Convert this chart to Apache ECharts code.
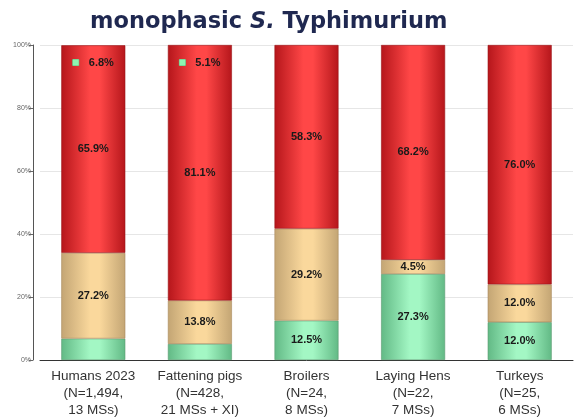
<!DOCTYPE html>
<html><head><meta charset="utf-8">
<script src="https://cdn.jsdelivr.net/npm/echarts@6/dist/echarts.min.js"></script>
<style>html,body{margin:0;padding:0;background:#fff}#c{width:577px;height:419px}</style>
</head><body><div id="c"></div>
<script>
var categories = ['Humans 2023\n(N=1,494,\n13 MSs)', 'Fattening pigs\n(N=428,\n21 MSs + XI)', 'Broilers\n(N=24,\n8 MSs)', 'Laying Hens\n(N=22,\n7 MSs)', 'Turkeys\n(N=25,\n6 MSs)'];
var greenVals = [6.8, 5.1, 12.5, 27.3, 12.0];
var tanVals = [27.2, 13.8, 29.2, 4.5, 12.0];
var redVals = [65.9, 81.1, 58.3, 68.2, 76.0];
var greenLabelOnTop = [true, true, false, false, false];
var yTicks = [0, 20, 40, 60, 80, 100];

function grad(edge, mid) {
  return new echarts.graphic.LinearGradient(0, 0, 1, 0, [
    {offset: 0, color: edge}, {offset: 0.45, color: mid}, {offset: 0.6, color: mid}, {offset: 1, color: edge}
  ]);
}
var lblBase = {show: true, position: 'inside', color: '#1a1a1a', fontWeight: 'bold', fontSize: 11, fontFamily: 'Liberation Sans, Arial, sans-serif',
  formatter: function (p) { return p.value.toFixed(1) + '%'; }};

var chart = echarts.init(document.getElementById('c'), null, {renderer: 'canvas'});
chart.setOption({
  animation: false,
  title: {text: 'monophasic {i|S.} Typhimurium', left: 85, top: 6,
    textStyle: {fontFamily: 'DejaVu Sans', fontWeight: 'bold', fontSize: 22.5, color: '#1f2850',
      rich: {i: {fontFamily: 'DejaVu Sans', fontStyle: 'italic', fontWeight: 'bold', fontSize: 22.5, color: '#1f2850'}}}},
  grid: {left: 40, right: 4, top: 45, bottom: 59},
  xAxis: {type: 'category', data: categories,
    axisLine: {lineStyle: {color: '#333', width: 1}}, axisTick: {show: false},
    axisLabel: {color: '#333', fontSize: 13.5, lineHeight: 17, margin: 8, fontFamily: 'Liberation Sans, Arial, sans-serif', interval: 0}},
  yAxis: {type: 'value', min: 0, max: 100, interval: 20, offset: 7,
    axisLine: {show: true, lineStyle: {color: '#555'}},
    axisTick: {show: true, length: 4, lineStyle: {color: '#666'}},
    splitLine: {lineStyle: {color: '#e6e6e6'}},
    axisLabel: {fontSize: 7, color: '#666', margin: 2, fontFamily: 'Liberation Sans, Arial, sans-serif',
      formatter: function (v) { return yTicks.indexOf(v) >= 0 ? v + '%' : ''; }}},
  series: [
    {name: 'green', type: 'bar', stack: 's', barWidth: 64,
      itemStyle: {color: grad('#62b985', '#a3f7c4'), borderColor: '#5a9a70', borderWidth: 0.6},
      label: Object.assign({}, lblBase, {formatter: function (p) { return greenLabelOnTop[p.dataIndex] ? '' : p.value.toFixed(1) + '%'; }}),
      data: greenVals},
    {name: 'tan', type: 'bar', stack: 's', barWidth: 64,
      itemStyle: {color: grad('#c3a574', '#fad89c'), borderColor: '#a8885a', borderWidth: 0.6},
      label: lblBase, data: tanVals},
    {name: 'red', type: 'bar', stack: 's', barWidth: 64,
      itemStyle: {color: grad('#b5161b', '#ff4747'), borderColor: '#9a1418', borderWidth: 0.6},
      label: lblBase, data: redVals},
    {name: 'greenTop', type: 'bar', barWidth: 64, barGap: '-100%', silent: true,
      itemStyle: {color: 'rgba(0,0,0,0)'},
      label: {show: true, position: 'insideTop', distance: 12,
        formatter: function (p) { return '{sq|}{t|' + greenVals[p.dataIndex].toFixed(1) + '%}'; },
        rich: {sq: {width: 6, height: 6, backgroundColor: '#8ef5b0', borderColor: '#5fbf80', borderWidth: 0.5},
               t: {color: '#1a1a1a', fontWeight: 'bold', fontSize: 11, padding: [0, 0, 0, 10], fontFamily: 'Liberation Sans, Arial, sans-serif'}}},
      data: greenLabelOnTop.map(function (f) { return f ? 100 : '-'; })}
  ]
});
</script></body></html>
